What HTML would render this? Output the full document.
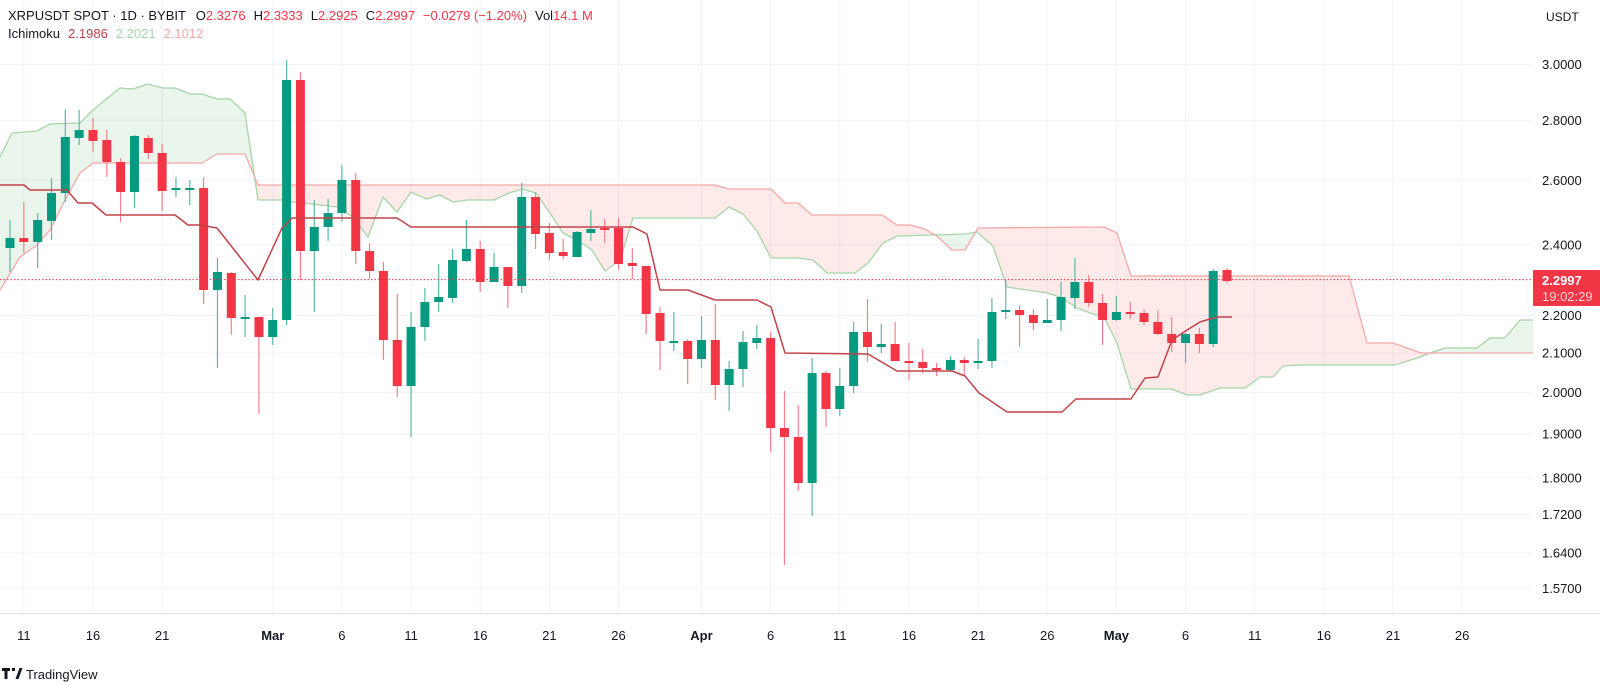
<!DOCTYPE html>
<html><head><meta charset="utf-8"><style>
html,body{margin:0;padding:0;background:#fff;width:1600px;height:685px;overflow:hidden;font-family:"Liberation Sans",sans-serif}
svg{display:block}
</style></head><body>
<svg id="c" width="1600" height="685" xmlns="http://www.w3.org/2000/svg" font-family="Liberation Sans, sans-serif"></svg>
<script>
var NS="http://www.w3.org/2000/svg",S=document.getElementById('c');
function el(t,a,p){var e=document.createElementNS(NS,t);for(var k in a)e.setAttribute(k,a[k]);(p||S).appendChild(e);return e;}
function txt(x,y,s,a){var e=el('text',Object.assign({x:x,y:y},a));e.textContent=s;return e;}
var R=1533,B=613;
function Y(p){return 953.3-809*Math.log(p);}
function X(i){return 10+13.83*i;}
var lv=[3,2.8,2.6,2.4,2.2,2.1,2,1.9,1.8,1.72,1.64,1.57];
lv.forEach(function(p){var y=Y(p);el('line',{x1:0,x2:R,y1:y,y2:y,stroke:'#f0f3fa','stroke-width':1});});
var dl=[[1,'11'],[6,'16'],[11,'21'],[19,'Mar'],[24,'6'],[29,'11'],[34,'16'],[39,'21'],[44,'26'],[50,'Apr'],[55,'6'],[60,'11'],[65,'16'],[70,'21'],[75,'26'],[80,'May'],[85,'6'],[90,'11'],[95,'16'],[100,'21'],[105,'26']];
dl.forEach(function(d){var x=X(d[0]);el('line',{x1:x,x2:x,y1:0,y2:B,stroke:'#f0f3fa','stroke-width':1});
 txt(x,640,d[1],{'text-anchor':'middle','font-size':13,fill:'#131722','font-weight':isNaN(+d[1])?'bold':'normal'});});
el('line',{x1:0,x2:1600,y1:B+0.5,y2:B+0.5,stroke:'#e0e3eb'});
var dark=[[0,185],[24,185],[30,190],[67,190],[78,203],[92,203],[106,215],[175,215],[188,225],[200,225],[217,228],[258,280],[282,228],[292,218],[397,218],[411,227],[633,227],[647,234],[660,290],[688,290],[715,300],[757,300],[771,307],[785,353],[868,354],[897,371],[952,371],[965,376],[979,393],[1007,412],[1062,412],[1076,399],[1131,399],[1145,378],[1158,377],[1172,340],[1187,330],[1200,322],[1210,319],[1218,317],[1232,317]];
var ga=[[0,157],[12,133],[37,131],[50,124],[80,123],[93,110],[120,88],[133,89],[148,84],[163,88],[175,88],[190,94],[202,94],[217,99],[230,99],[245,113],[258,200],[282,200],[293,202],[313,204],[337,207],[353,217],[368,237],[383,197],[397,212],[411,192],[426,199],[440,195],[453,202],[467,200],[494,200],[509,193],[522,189],[536,193],[550,213],[563,233],[577,240],[592,250],[605,271],[620,260],[633,218],[715,218],[729,207],[743,214],[757,231],[771,258],[798,258],[813,260],[827,273],[855,273],[868,263],[883,243],[897,236],[965,234],[977,232],[993,246],[1007,287],[1020,289],[1048,293],[1062,298],[1077,308],[1090,313],[1104,317],[1117,343],[1131,389],[1172,389],[1187,395],[1200,395],[1220,388],[1245,388],[1260,377],[1273,377],[1283,366],[1300,365],[1395,365],[1420,357],[1430,353],[1445,348],[1477,348],[1490,338],[1505,338],[1520,320],[1533,320]];
var gb=[[0,290],[20,257],[37,245],[50,230],[65,200],[80,173],[93,163],[202,163],[217,154],[245,154],[258,185],[715,185],[729,189],[771,189],[785,203],[798,203],[812,215],[882,215],[897,225],[910,225],[925,229],[938,237],[952,250],[965,250],[978,228],[1104,227],[1117,233],[1131,276],[1349,276],[1367,343],[1393,343],[1421,353],[1533,353]];
function interp(L,x){for(var k=0;k<L.length-1;k++){if(x>=L[k][0]&&x<=L[k+1][0]){var t=(x-L[k][0])/(L[k+1][0]-L[k][0]||1);return L[k][1]+t*(L[k+1][1]-L[k][1]);}}return L[L.length-1][1];}
var runs=[],cur=null;
for(var x=0;x<=R;x++){var a=interp(ga,x),b=interp(gb,x),s=a<=b?1:-1;
 if(!cur||cur.s!==s){if(cur){cur.a.push([x,a]);cur.b.push([x,b]);}cur={s:s,a:[],b:[]};runs.push(cur);}
 cur.a.push([x,a]);cur.b.push([x,b]);}
runs.forEach(function(r){var pts=r.a.concat(r.b.slice().reverse()).map(function(p){return p[0]+','+p[1].toFixed(1)}).join(' ');
 el('polygon',{points:pts,fill:r.s>0?'rgba(67,160,71,0.11)':'rgba(244,67,54,0.11)'});});
function pl(L,c,w){el('polyline',{points:L.map(function(p){return p.join(',')}).join(' '),fill:'none',stroke:c,'stroke-width':w,'stroke-linejoin':'round'});}
pl(ga,'#a5d6a7',1.3);pl(gb,'#f4a9a8',1.3);
var C=[['g',238,248,220,272],['r',238,242,202,253],['g',220,242,213,268],['g',193,221,178,240],['g',137,193,109,202],['g',130,138,110,145],['r',130,141,118,152],['r',140,162,130,177],['r',162,192,158,222],['g',136,192,135,208],['r',138,153,135,159],['r',153,191,144,211],['g',188,190,177,197],['g',188,189,180,205],['r',188,290,177,304],['g',272,290,258,368],['r',273,318,272,335],['g',317,318,295,337],['r',317,337,317,414],['g',320,337,308,345],['g',80,320,60,325],['r',80,251,72,280],['g',227,251,200,312],['g',213,227,199,241],['g',180,213,165,222],['r',180,251,173,264],['r',251,271,243,279],['r',271,340,262,360],['r',340,386,294,397],['g',327,386,312,437],['g',302,327,288,341],['g',297,302,264,312],['g',260,298,249,303],['g',249,261,220,262],['r',249,282,241,292],['g',267,282,253,282],['r',267,286,267,308],['g',197,286,183,293],['r',197,234,192,249],['r',233,253,223,260],['r',252,256,239,259],['g',232,257,231,257],['g',229,233,210,241],['r',228,229,219,243],['r',228,264,218,270],['r',263,266,248,279],['r',266,314,266,334],['r',313,341,307,370],['g',341,342,312,351],['r',341,359,339,384],['g',340,359,316,368],['r',340,385,304,400],['g',369,385,361,411],['g',342,369,331,387],['g',338,343,325,349],['r',338,428,332,452],['r',428,437,391,565],['r',437,483,405,491],['g',373,483,358,516],['r',373,409,371,427],['g',386,409,368,416],['g',332,386,322,393],['r',332,347,299,362],['g',344,347,324,353],['r',344,361,322,361],['r',361,362,343,380],['r',362,368,349,373],['r',368,370,363,376],['g',360,370,356,372],['r',360,363,357,375],['g',361,363,339,369],['g',312,361,298,368],['g',310,312,280,319],['r',310,315,305,347],['r',315,323,309,330],['g',320,323,299,323],['g',297,320,282,331],['g',282,298,258,309],['r',282,303,275,307],['r',303,320,294,345],['g',312,320,296,321],['r',312,314,302,319],['r',313,322,309,325],['r',322,334,310,335],['r',334,343,317,352],['g',334,343,333,363],['r',334,344,328,353],['g',271,344,269,347],['r',270,281,268,283]];
C.forEach(function(c,i){var x=X(i),col=c[0]=='g'?'#089981':'#f23645',wc=c[0]=='g'?'#58b8a6':'#f5808a';
 el('line',{x1:x,x2:x,y1:c[3],y2:c[4],stroke:wc,'stroke-width':1.2});
 el('rect',{x:x-4.5,y:c[1],width:9,height:Math.max(2,c[2]-c[1]),fill:col});});
pl(dark,'#c2434a',1.5);
el('line',{x1:0,x2:R,y1:279.6,y2:279.6,stroke:'#f23645','stroke-width':1,'stroke-dasharray':'1.5,2'});
lv.forEach(function(p){txt(1542,Y(p)+4.5,p.toFixed(4),{'font-size':13,fill:'#131722'});});
el('rect',{x:1533,y:270,width:67,height:36,fill:'#f23645',rx:1});
txt(1542,285,'2.2997',{'font-size':13,fill:'#fff','font-weight':'bold'});
txt(1542,301,'19:02:29',{'font-size':13,fill:'#fbd3d6'});
txt(1546,21,'USDT',{'font-size':12,fill:'#131722'});
var h=el('text',{x:8,y:20,'font-size':13,fill:'#131722'});
h.innerHTML='XRPUSDT SPOT · 1D · BYBIT<tspan dx="10">O</tspan><tspan fill="#f23645">2.3276</tspan><tspan dx="8">H</tspan><tspan fill="#f23645">2.3333</tspan><tspan dx="8">L</tspan><tspan fill="#f23645">2.2925</tspan><tspan dx="8">C</tspan><tspan fill="#f23645">2.2997</tspan><tspan dx="8" fill="#f23645">−0.0279 (−1.20%)</tspan><tspan dx="8">Vol</tspan><tspan fill="#f23645">14.1 M</tspan>';
var h2=el('text',{x:8,y:38,'font-size':13,fill:'#131722'});
h2.innerHTML='Ichimoku<tspan dx="8" fill="#c2434a">2.1986</tspan><tspan dx="8" fill="#a5d6a7">2.2021</tspan><tspan dx="8" fill="#f4a9a8">2.1012</tspan>';
el('path',{d:'M2 668h8v3h-2.5v8h-3v-8H2z M12 668h3v3h-3z M15.5 679l4-11h3l-4 11z',fill:'#131722'});
txt(26,679,'TradingView',{'font-size':13,fill:'#131722'});
</script>
</body></html>
